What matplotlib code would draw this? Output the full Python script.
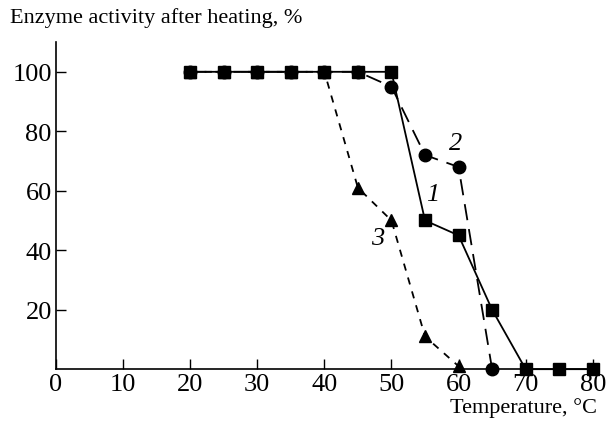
import matplotlib
matplotlib.use("Agg")
import matplotlib.pyplot as plt

plt.rcParams["font.family"] = ["Liberation Serif", "DejaVu Serif"]

# curve 1: squares, solid
t1 = [20, 25, 30, 35, 40, 45, 50, 55, 60, 65, 70, 75, 80]
a1 = [100, 100, 100, 100, 100, 100, 100, 50, 45, 20, 0, 0, 0]
# curve 2: circles, long dashes
t2 = [20, 25, 30, 35, 40, 45, 50, 55, 60, 65]
a2 = [100, 100, 100, 100, 100, 100, 95, 72, 68, 0]
# curve 3: triangles, short dashes
t3 = [20, 25, 30, 35, 40, 45, 50, 55, 60]
a3 = [100, 100, 100, 100, 100, 61, 50, 11, 1]

xticks = [0, 10, 20, 30, 40, 50, 60, 70, 80]
yticks = [20, 40, 60, 80, 100]

fig = plt.figure(figsize=(6.12, 4.35), dpi=100)
ax = fig.add_axes([0.0915, 0.149, 0.888, 0.752])

ax.plot(t3, a3, color="black", lw=1.3, ls=(0, (4, 4)), marker="^", ms=9, clip_on=False)
ax.plot(t2, a2, color="black", lw=1.3, ls=(0, (9, 5)), marker="o", ms=9, clip_on=False)
ax.plot(t1, a1, color="black", lw=1.3, ls="-", marker="s", ms=9, clip_on=False)

ax.text(56.1, 59, "1", fontsize=19, style="italic", ha="center", va="center")
ax.text(59.5, 76, "2", fontsize=19, style="italic", ha="center", va="center")
ax.text(48, 44, "3", fontsize=19, style="italic", ha="center", va="center")

ax.set_xlim(0, 81)
ax.set_ylim(0, 110)
ax.set_xticks(xticks)
ax.set_yticks(yticks)
ax.tick_params(direction="in", length=7, width=1, labelsize=19, colors="black")
ax.tick_params(axis="x", pad=3)
ax.tick_params(axis="y", pad=3)
for side in ["top", "right"]:
    ax.spines[side].set_visible(False)
for side in ["left", "bottom"]:
    ax.spines[side].set_linewidth(1.2)

fig.text(0.016, 0.958, "Enzyme activity after heating, %", fontsize=16, ha="left", va="center")
fig.text(0.975, 0.062, "Temperature, °C", fontsize=16, ha="right", va="center")

fig.savefig("out.png", dpi=100)
